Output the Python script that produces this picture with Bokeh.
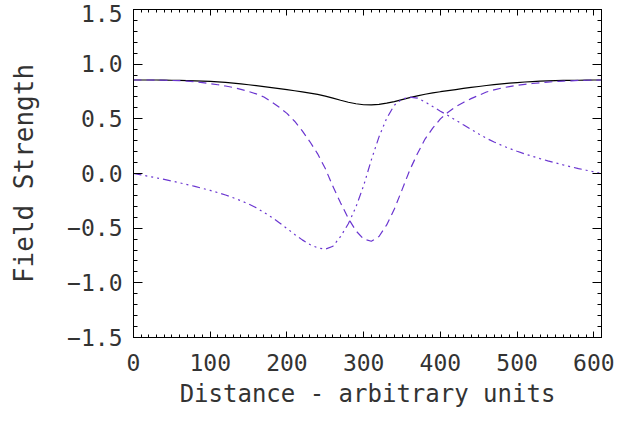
import numpy as np
from bokeh.plotting import figure
from bokeh.models import Range1d, LinearAxis, FixedTicker, CustomJSTickFormatter, ColumnDataSource
from bokeh.embed import file_html
from bokeh.resources import INLINE

# ---- data ----
distance = list(range(0, 611, 10))

field_total = [0.855, 0.855, 0.855, 0.855, 0.854, 0.853, 0.852, 0.850, 0.848, 0.845,
               0.842, 0.838, 0.833, 0.827, 0.820, 0.812, 0.804, 0.795, 0.786, 0.777,
               0.767, 0.757, 0.746, 0.735, 0.723, 0.708, 0.690, 0.670, 0.652, 0.638,
               0.629, 0.627, 0.632, 0.643, 0.658, 0.676, 0.694, 0.710, 0.725, 0.737,
               0.748, 0.758, 0.768, 0.778, 0.787, 0.796, 0.805, 0.813, 0.820, 0.826,
               0.832, 0.837, 0.841, 0.844, 0.847, 0.849, 0.851, 0.852, 0.853, 0.854,
               0.855, 0.855]

field_x = [0.855, 0.855, 0.855, 0.854, 0.853, 0.851, 0.849, 0.845, 0.840, 0.832,
           0.822, 0.812, 0.800, 0.787, 0.770, 0.750, 0.728, 0.700, 0.655, 0.605,
           0.550, 0.478, 0.390, 0.290, 0.180, 0.045, -0.120, -0.270, -0.410, -0.525,
           -0.600, -0.620, -0.576, -0.470, -0.325, -0.150, 0.030, 0.180, 0.315, 0.415,
           0.500, 0.560, 0.612, 0.650, 0.685, 0.715, 0.745, 0.765, 0.782, 0.795,
           0.806, 0.815, 0.823, 0.830, 0.836, 0.841, 0.845, 0.848, 0.851, 0.853,
           0.854, 0.855]

field_y = [0.000, -0.013, -0.026, -0.040, -0.054, -0.069, -0.085, -0.101, -0.118, -0.136,
           -0.155, -0.175, -0.197, -0.222, -0.249, -0.279, -0.314, -0.355, -0.400, -0.450,
           -0.503, -0.557, -0.607, -0.650, -0.680, -0.692, -0.665, -0.575, -0.460, -0.305,
           -0.110, 0.125, 0.335, 0.505, 0.625, 0.680, 0.698, 0.690, 0.655, 0.612,
           0.570, 0.530, 0.488, 0.445, 0.403, 0.362, 0.322, 0.288, 0.257, 0.229,
           0.203, 0.179, 0.157, 0.136, 0.116, 0.097, 0.079, 0.062, 0.045, 0.030,
           0.015, 0.000]

x_ticks = [0, 100, 200, 300, 400, 500, 600]
x_tick_labels = ["0", "100", "200", "300", "400", "500", "600"]
y_ticks = [-1.5, -1.0, -0.5, 0.0, 0.5, 1.0, 1.5]
y_tick_labels = ["\u22121.5", "\u22121.0", "\u22120.5", "0.0", "0.5", "1.0", "1.5"]

x_label = "Distance - arbitrary units"
y_label = "Field Strength"

# ---- styling ----
FONT = "DejaVu Sans Mono"
TXT = "#333333"
PURPLE = "#6a35d0"
TICK_FS = "23px"

src = ColumnDataSource(dict(d=distance, b=field_total, bx=field_x, by=field_y))

p = figure(width=621, height=422, output_backend="svg", toolbar_location=None,
           x_range=Range1d(0, 610), y_range=Range1d(-1.5, 1.5),
           min_border_left=133, min_border_right=20, min_border_top=9, min_border_bottom=85,
           x_axis_label=x_label, y_axis_label=y_label)
p.grid.visible = False
p.outline_line_color = "black"
p.background_fill_color = "white"
p.border_fill_color = "white"

p.line("d", "b", source=src, line_color="black", line_width=1.2)
p.line("d", "bx", source=src, line_color=PURPLE, line_width=1.2, line_dash="8 5")
p.line("d", "by", source=src, line_color=PURPLE, line_width=1.2, line_dash="8 4 2 4 2 4 2 4")

x_minor = [float(v) for v in np.arange(0, 611, 10)]
y_minor = [round(float(v), 2) for v in np.arange(-1.5, 1.51, 0.1)]
xt = FixedTicker(ticks=x_ticks, minor_ticks=x_minor)
yt = FixedTicker(ticks=y_ticks, minor_ticks=y_minor)

def style(ax, ticker, major, minor):
    ax.ticker = ticker
    ax.major_tick_in = major
    ax.major_tick_out = 0
    ax.minor_tick_in = minor
    ax.minor_tick_out = 0
    ax.axis_line_color = "black"
    ax.major_tick_line_color = "black"
    ax.minor_tick_line_color = "black"

xa = p.xaxis[0]
style(xa, xt, 6, 3)
xa.major_label_overrides = dict(zip(x_ticks, x_tick_labels))
xa.major_label_text_font = FONT
xa.major_label_text_font_size = TICK_FS
xa.major_label_text_color = TXT
xa.major_label_standoff = 16
xa.axis_label_text_font = FONT
xa.axis_label_text_font_size = "24px"
xa.axis_label_text_font_style = "normal"
xa.axis_label_text_color = TXT
xa.axis_label_standoff = 6

# the top label is kept inside the page (a padding line below it)
label_of = dict(zip(y_ticks, y_tick_labels))
overrides = dict(label_of)
overrides[y_ticks[-1]] = label_of[y_ticks[-1]] + "\n\u00a0"

ya = p.yaxis[0]
style(ya, yt, 9, 4)
ya.major_label_overrides = overrides
ya.major_label_text_font = FONT
ya.major_label_text_font_size = TICK_FS
ya.major_label_text_color = TXT
ya.major_label_standoff = 11
ya.axis_label_text_font = FONT
ya.axis_label_text_font_size = "26px"
ya.axis_label_text_font_style = "normal"
ya.axis_label_text_color = TXT
ya.axis_label_standoff = 25

blank = CustomJSTickFormatter(code="return ''")
top = LinearAxis(formatter=blank)
style(top, FixedTicker(ticks=x_ticks, minor_ticks=x_minor), 6, 3)
top.major_label_text_font_size = "0px"
top.major_label_standoff = 0
p.add_layout(top, "above")

right = LinearAxis(formatter=blank)
style(right, FixedTicker(ticks=y_ticks, minor_ticks=y_minor), 9, 4)
right.major_label_text_font_size = "0px"
right.major_label_standoff = 0
p.add_layout(right, "right")

open("out.html", "w").write(file_html(p, INLINE))
